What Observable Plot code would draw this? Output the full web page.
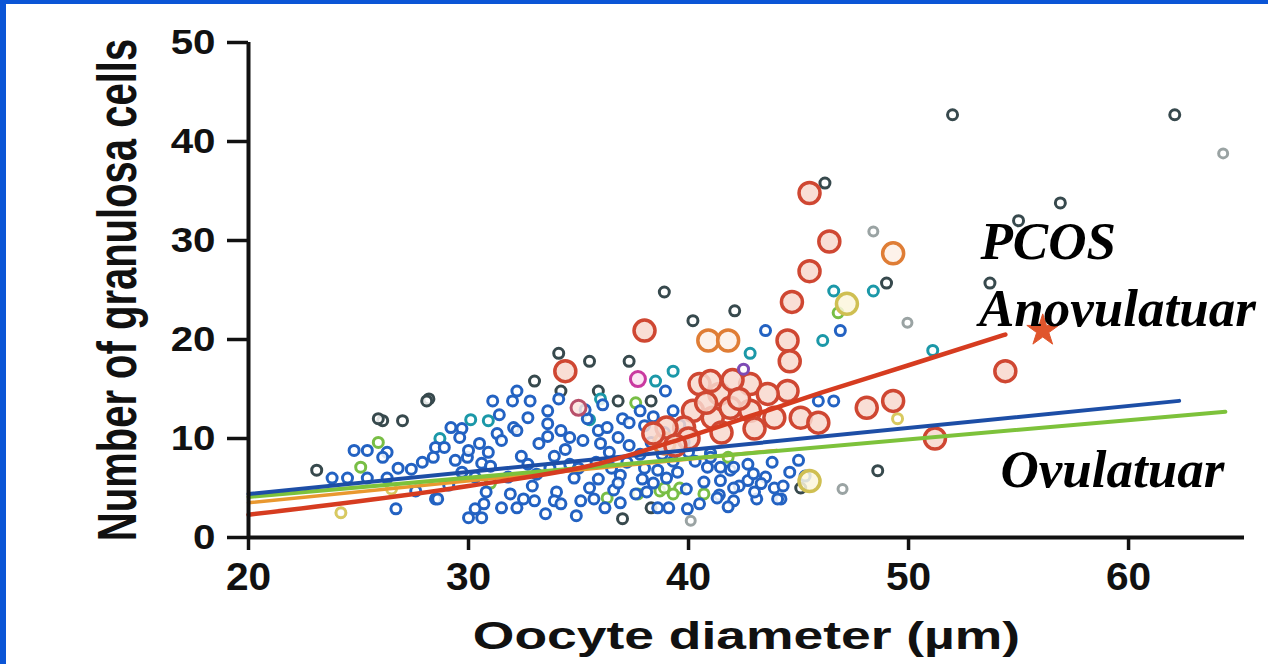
<!DOCTYPE html>
<html>
<head>
<meta charset="utf-8">
<script src="https://cdn.jsdelivr.net/npm/d3@7"></script>
<script src="https://cdn.jsdelivr.net/npm/@observablehq/plot@0.6"></script>
<style>
  html, body { margin: 0; padding: 0; background: #fff; overflow: hidden; }
  #wrap { position: relative; width: 1268px; height: 664px; }
  #wrap svg { position: absolute; left: 0; top: 0; }
  .bl { position: absolute; left: 0; top: 0; width: 6px; height: 664px; background: #0b55d6; }
  .bt { position: absolute; left: 0; top: 0; width: 1268px; height: 4px; background: #0b55d6; }
</style>
</head>
<body>
<div id="wrap"><div class="bl"></div><div class="bt"></div></div>
<script>
// ---- data (x = oocyte diameter µm, y = number of granulosa cells) ----
const xTicks = [20, 30, 40, 50, 60];
const yTicks = [0, 10, 20, 30, 40, 50];
const xTitle = "Oocyte diameter (µm)";
const yTitle = "Number of granulosa cells";

const bluePoints = [
  [23.8,6.0],[24.5,6.0],[25.4,6.0],[26.3,6.0],[24.8,8.8],[25.4,8.8],[26.3,8.6],[26.1,8.1],[26.8,7.0],[27.4,6.9],
  [28.5,9.1],[28.9,9.1],[28.4,8.1],[29.7,11.0],[29.2,11.1],[29.6,10.1],[29.95,8.1],[29.4,7.8],[30.0,8.8],[30.6,7.5],
  [29.7,6.6],[30.3,6.1],[28.5,3.9],[26.7,2.9],[28.6,3.9],[30.3,2.9],[30.6,2.0],[30.0,2.0],[30.7,3.4],[31.1,13.8],
  [32.0,13.8],[32.8,13.8],[32.2,14.8],[33.6,12.8],[33.6,11.5],[32.05,11.1],[31.3,10.5],[32.2,10.8],[31.5,9.8],[34.2,10.8],
  [34.6,10.1],[35.4,12.0],[35.9,10.8],[36.3,11.1],[36.8,10.1],[37.0,12.0],[37.8,12.8],[38.95,14.8],[34.1,14.0],[35.3,12.9],
  [36.1,13.4],[37.3,11.6],[38.4,12.2],[38.9,10.6],[39.6,11.4],[31.0,7.2],[31.8,6.1],[32.4,8.2],[32.9,5.2],[33.2,9.5],
  [33.7,7.0],[34.0,4.6],[34.4,8.9],[34.8,6.0],[35.2,9.8],[35.5,5.0],[35.8,7.6],[36.2,3.0],[36.4,8.6],[36.9,6.3],
  [37.3,9.3],[37.6,4.4],[38.0,7.0],[38.4,5.5],[38.8,8.4],[39.1,3.0],[39.5,6.6],[39.9,4.9],[40.3,7.7],[40.7,5.6],
  [41.0,8.5],[41.4,4.3],[41.9,6.8],[42.3,5.2],[42.7,7.4],[43.1,3.9],[43.5,6.1],[43.9,5.0],[44.2,3.9],[44.6,6.6],
  [45.0,7.8],[32.2,3.0],[32.5,3.9],[33.0,3.7],[33.9,3.7],[34.2,3.4],[35.1,3.7],[36.9,3.5],[38.6,3.0],[39.95,2.9],
  [41.3,4.0],[42.05,5.0],[44.05,3.9],[42.7,5.75],[41.45,7.1],[42.05,7.1],[42.95,6.45],[40.86,7.1],[41.45,5.75],[42.05,3.7],
  [43.3,5.45],[41.0,8.1],[31.9,4.4],[33.1,6.4],[34.6,7.4],[35.9,5.9],[36.6,4.8],[37.9,5.9],[38.3,9.6],[39.0,6.0],
  [40.0,8.6],[43.5,20.9],[46.9,20.9],[46.6,13.8],[45.9,13.8],[31.4,12.4],[30.5,9.5],[32.7,12.1],
  [30.8,4.6],[31.5,3.0],[33.5,2.4],[34.9,2.2],[35.7,3.9],[36.8,5.5],[37.2,7.6],[38.1,4.6],[38.6,6.8],[39.3,7.7],
  [39.8,9.6],[40.5,3.4],[41.8,3.1],[43.0,4.6],[44.3,5.2],[45.3,6.2],[43.8,7.6],[32.7,7.4],[33.9,8.2],[35.0,7.0],
  [36.5,7.0],[37.8,8.4],[36.0,9.5],[33.6,10.2],[30.9,8.6],[29.1,5.3],[27.6,4.7],[27.9,7.6],[38.0,11.3],[39.3,12.8]
];
const tealPoints = [
  [30.1,11.9],[28.7,10.0],[38.5,15.8],[39.3,16.8],[42.8,18.6],[46.1,19.9],[46.6,24.9],[48.4,24.9],[51.1,18.9],
  [30.9,11.8],[35.5,11.9],[36.0,14.0]
];
const darkPoints = [
  [28.2,14.0],[26.1,11.8],[27.0,11.8],[23.1,6.8],[34.1,18.6],[35.5,17.8],[37.3,17.8],[33.0,15.8],[34.2,14.8],
  [35.9,14.8],[38.3,13.8],[28.1,13.8],[36.8,13.8],[40.2,21.9],[42.1,22.9],[38.9,24.8],[46.2,35.8],[49.0,25.7],
  [52.0,42.7],[62.1,42.7],[56.9,33.8],[55.0,32.0],[53.7,25.7],[48.6,6.75],[45.1,5.0],[37.0,1.9],[38.3,3.0],
  [25.9,12.0]
];
const grayPoints = [
  [64.3,38.8],[48.4,30.9],[49.95,21.7],[47.0,4.9],[40.1,1.7],[24.2,2.5]
];
const greenPoints = [
  [25.9,9.6],[25.1,7.1],[37.6,13.6],[36.3,4.0],[37.7,4.4],[38.7,4.7],[39.6,5.0],[41.0,8.5],[41.8,8.1],
  [38.9,5.0],[39.3,4.4],[40.7,4.4],[46.8,22.7],[31.0,5.5]
];
const yellowSmall = [[49.5,12.0],[24.2,2.5],[26.5,4.9]];
const yellowLarge = [[45.5,5.7],[47.2,23.6]];
const orangeLarge = [[40.9,19.9],[41.8,19.9],[49.3,28.7],[38.9,9.5]];
const redLarge = [
  [45.5,34.8],[46.4,29.9],[45.5,26.9],[44.7,23.8],[38.0,20.9],[44.5,19.9],[44.6,17.8],[34.4,16.8],[54.4,16.8],
  [51.2,10.0],[48.1,13.1],[49.3,13.8],[45.1,12.1],[44.5,14.8],[40.5,15.5],[41.4,14.5],[40.2,12.8],[41.1,12.1],
  [41.9,13.1],[39.8,11.1],[39.0,11.1],[38.4,10.5],[42.8,15.5],[43.6,14.5],[42.8,12.8],[43.9,12.1],[42.0,15.9],
  [41.0,15.8],[40.0,10.0],[41.5,10.6],[39.4,9.3],[43.0,11.0],[45.9,11.6],[42.3,14.0],[40.8,13.6]
];
const redMedium = [[35.0,13.1]];
const magentaPoints = [[37.7,16.0]];
const purplePoints = [[42.5,17.0]];
const starPoint = [[56.1,20.9]];

const redLine = [[20,2.3],[30,5.2],[36,7.5],[40,10.2],[43,12.4],[46,14.6],[50,17.4],[54.4,20.5]];
const orangeLine = [[20,3.5],[44,8.8]];
const blueLine = [[20,4.4],[62.3,13.8]];
const greenLine = [[20,4.1],[64.4,12.7]];

const annotations = [
  {x: 53.27, y: 28.1, text: "PCOS"},
  {x: 53.2, y: 21.4, text: "Anovulatuar"},
  {x: 54.18, y: 5.1, text: "Ovulatuar"}
];

// ---- chart ----
const X = d => d[0], Y = d => d[1];
const dots = (data, stroke, r, sw, fill) =>
  Plot.dot(data, {x: X, y: Y, r, stroke, strokeWidth: sw, fill: fill || "white", fillOpacity: 0.85});

const chart = Plot.plot({
  width: 1268,
  height: 664,
  marginLeft: 248,
  marginRight: 24,
  marginTop: 42,
  marginBottom: 127,
  style: {fontFamily: "'Liberation Sans', Arial, sans-serif", fontWeight: "bold", color: "#111", background: "transparent"},
  x: {domain: [20, 65.27], ticks: xTicks, label: null},
  y: {domain: [0, 50], ticks: yTicks, label: null},
  marks: [
    dots(grayPoints, "#9aa3a3", 4.5, 3),
    dots(yellowSmall, "#d8c960", 5, 3),
    dots(greenPoints, "#78be45", 5, 3),
    dots(darkPoints, "#37494d", 5, 3),
    dots(tealPoints, "#1b98a8", 5, 3),
    dots(bluePoints, "#2362c2", 5, 3),
    dots(yellowLarge, "#cfbf52", 10.5, 3.5, "#fbf6dc"),
    dots(orangeLarge, "#df7d35", 10.5, 3.5, "#fdf0e6"),
    dots(redLarge, "#cf4732", 10.5, 3.5, "#f8d8ce"),
    dots(redMedium, "#b8506a", 7.5, 3, "#fbe5df"),
    dots(magentaPoints, "#c93aa0", 7.5, 3, "#fbe3f2"),
    dots(purplePoints, "#7d4bb5", 5, 3),
    Plot.line(orangeLine, {x: X, y: Y, stroke: "#e9982f", strokeWidth: 3.5}),
    Plot.line(greenLine, {x: X, y: Y, stroke: "#7dc23b", strokeWidth: 4}),
    Plot.line(blueLine, {x: X, y: Y, stroke: "#1d4ea6", strokeWidth: 4}),
    Plot.line(redLine, {x: X, y: Y, stroke: "#d63c20", strokeWidth: 4.5, curve: "monotone-x"}),
    Plot.dot(starPoint, {x: X, y: Y, symbol: "star", r: 10, fill: "#e0552c", stroke: "#e0552c", strokeWidth: 1}),
    Plot.axisY({ticks: yTicks, tickSize: 21, tickPadding: 12, fontSize: 36, strokeWidth: 3.5, stroke: "#111", fill: "#111", label: null}),
    Plot.axisX({ticks: xTicks, tickSize: 13, tickPadding: 13, fontSize: 38, strokeWidth: 3.5, stroke: "#111", fill: "#111", label: null}),
    Plot.ruleY([0], {stroke: "#111", strokeWidth: 4}),
    Plot.ruleX([20], {stroke: "#111", strokeWidth: 4}),
    Plot.text([xTitle], {text: d => d, frameAnchor: "bottom", textAnchor: "middle", lineAnchor: "bottom", dy: 111, fontSize: 39, fill: "#111"}),
    Plot.text([yTitle], {text: d => d, frameAnchor: "left", textAnchor: "middle", lineAnchor: "bottom", rotate: -90, dx: -113, fontSize: 40, fill: "#111"}),
    Plot.text(annotations, {x: "x", y: "y", text: "text", textAnchor: "start", lineAnchor: "bottom",
      fontFamily: "'Liberation Serif', 'Times New Roman', serif", fontStyle: "italic", fontWeight: "bold", fontSize: 53, fill: "#000"})
  ]
});

// horizontal stretch of the sans-serif texts, as in the reference
function stretchText(t, sx, sy) {
  const tr = t.getAttribute("transform") || "";
  t.setAttribute("transform", `${tr} scale(${sx},${sy})`);
}
chart.querySelectorAll('g[aria-label="y-axis tick label"] text').forEach(t => stretchText(t, 1.12, 1));
chart.querySelectorAll('g[aria-label="x-axis tick label"] text').forEach(t => stretchText(t, 1.07, 1));
chart.querySelectorAll("text").forEach(t => {
  if (t.textContent === xTitle) stretchText(t, 1.37, 1);
  if (t.textContent === yTitle) stretchText(t, 1, 1.37);
});

document.getElementById("wrap").prepend(chart);
</script>
</body>
</html>
